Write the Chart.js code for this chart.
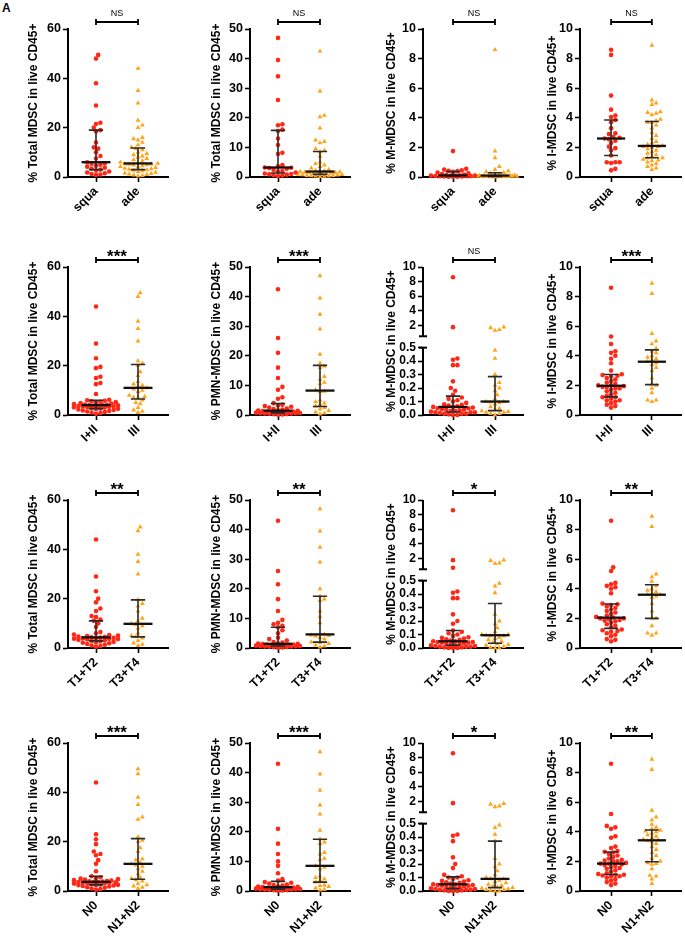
<!DOCTYPE html>
<html>
<head>
<meta charset="utf-8">
<script src="https://cdn.jsdelivr.net/npm/chart.js@4.4.0/dist/chart.umd.min.js"></script>
<style>
body { margin: 0; background: #fff; width: 685px; height: 936px; overflow: hidden; position: relative; }
canvas { position: absolute; }
#lab { position: absolute; left: 2px; top: 2px; font: bold 12px "Liberation Sans", Arial, sans-serif; line-height: 12px; }
</style>
</head>
<body>
<div id="lab">A</div>
<script>
// group names for each row
const groups = [['squa', 'ade'], ['I+II', 'III'], ['T1+T2', 'T3+T4'], ['N0', 'N1+N2']];
const yTitles = [
  ['% Total MDSC in live CD45+', '% Total MDSC in live CD45+', '% M-MDSC in live CD45+', '% I-MDSC in live CD45+'],
  ['% Total MDSC in live CD45+', '% PMN-MDSC in live CD45+', '% M-MDSC in live CD45+', '% I-MDSC in live CD45+'],
  ['% Total MDSC in live CD45+', '% PMN-MDSC in live CD45+', '% M-MDSC in live CD45+', '% I-MDSC in live CD45+'],
  ['% Total MDSC in live CD45+', '% PMN-MDSC in live CD45+', '% M-MDSC in live CD45+', '% I-MDSC in live CD45+']
];
const signif = [['NS', 'NS', 'NS', 'NS'], ['***', '***', 'NS', '***'], ['**', '**', '*', '**'], ['***', '***', '*', '**']];
const yMax = [60, 50, 10, 10];
const yStep = [20, 10, 2, 2];
const brokenTicks = [0, 0.1, 0.2, 0.3, 0.4, 0.5, 2, 4, 6, 8, 10];

// row 1: squa / ade
const tot_squa = [0.8,1.0,1.2,1.5,1.8,2.2,2.6,3.0,3.4,3.8,4.2,4.6,5.0,5.4,5.6,6.0,7.5,8.5,10,11.5,12,14,18.5,19,20,21.5,22,29,38,48,49.5];
const tot_ade = [0.4,0.6,0.8,1.0,1.2,1.4,1.6,1.9,2.2,2.5,2.7,2.9,3.1,3.3,3.5,3.8,4.0,4.2,4.5,4.8,5.0,5.1,5.2,5.3,5.5,5.8,6.0,6.5,7.0,7.5,8.0,8.5,9.0,9.5,10,11,11.5,12,13,14,15,15.5,16,20,21,23,30,35,44];
const pmn_squa = [0.3,0.5,0.6,0.8,0.9,1.0,1.2,1.5,1.8,2.0,2.4,2.8,3.0,3.1,3.2,3.6,4.0,7.8,8.2,10.8,13,15.5,16,17.5,17.8,26,34,39.5,47];
const pmn_ade = [0.1,0.2,0.3,0.3,0.4,0.5,0.5,0.6,0.7,0.8,0.9,1.0,1.0,1.1,1.2,1.3,1.4,1.5,1.6,1.7,1.8,1.9,2.0,2.2,2.5,3.0,3.5,4.0,4.5,5.0,7.0,8.5,9.0,9.5,11.5,12,12.5,16.5,20.3,20.8,29,42.5];
const mm_squa = [0.01,0.02,0.02,0.03,0.04,0.05,0.05,0.06,0.07,0.08,0.09,0.1,0.1,0.12,0.14,0.16,0.2,0.25,0.3,0.35,0.4,0.42,0.45,0.5,0.55,1.75];
const mm_ade = [0,0.01,0.01,0.02,0.02,0.03,0.03,0.04,0.04,0.05,0.05,0.06,0.06,0.07,0.08,0.09,0.1,0.1,0.11,0.12,0.14,0.16,0.2,0.25,0.3,0.35,0.4,0.5,0.7,1.3,1.75,8.6];
const im_squa = [0.45,0.55,0.95,1.0,1.0,1.0,1.45,1.8,1.95,2.05,2.3,2.45,2.55,2.6,2.65,2.7,2.9,2.95,3.3,3.7,3.85,4.05,4.15,4.55,5.5,8.25,8.6];
const im_ade = [0.5,0.6,0.7,0.8,0.9,1.0,1.1,1.15,1.2,1.3,1.3,1.4,1.5,1.6,1.7,1.8,1.9,2.0,2.05,2.05,2.1,2.2,2.3,2.4,2.6,2.8,3.0,3.3,3.5,3.7,3.7,3.8,3.9,4.2,4.3,4.35,4.4,4.9,5.0,5.2,8.9];

// row 2: I+II / III
const tot_12 = [0.5,0.8,1.0,1.2,1.4,1.6,1.8,2.0,2.2,2.4,2.5,2.6,2.8,3.0,3.1,3.2,3.3,3.4,3.5,3.6,3.7,3.8,3.9,4.0,4.0,4.1,4.2,4.4,4.6,4.8,5.0,5.2,5.4,5.6,5.8,6.0,6.2,8.5,12.5,13,15,15.5,19,19.5,23,29,44];
const tot_3 = [1.0,1.5,2.0,3.0,4.5,5.0,6.0,7.0,7.2,7.5,8.0,9.5,10.0,10.5,11,11.5,12,12.5,13.5,16,17.5,20,21,22,30,35,38,48,49.5];
const pmn_12 = [0.1,0.2,0.3,0.3,0.4,0.5,0.5,0.6,0.6,0.7,0.8,0.8,0.9,1.0,1.0,1.1,1.2,1.2,1.3,1.4,1.5,1.6,1.8,2.0,2.2,2.5,2.8,3.0,3.2,3.5,4.0,5.5,6.0,8.5,9.5,12.5,16,21,26,42.5];
const pmn_3 = [0.3,0.6,1.0,1.5,2.0,2.5,3.0,3.5,4.0,4.5,5.0,7.8,8.0,8.5,10.5,11,12,13,16,16.5,17.5,20.5,29,34,39.5,47];
const mm_12 = [0,0,0.005,0.01,0.01,0.01,0.015,0.02,0.02,0.02,0.025,0.03,0.03,0.035,0.04,0.04,0.045,0.05,0.05,0.055,0.06,0.06,0.065,0.07,0.075,0.08,0.09,0.1,0.11,0.12,0.13,0.15,0.18,0.2,0.25,0.37,0.37,0.41,0.42,1.75,8.6];
const mm_3 = [0,0.01,0.01,0.02,0.02,0.025,0.03,0.04,0.05,0.06,0.08,0.09,0.095,0.1,0.1,0.12,0.15,0.18,0.2,0.22,0.24,0.3,0.42,0.48,1.3,1.4,1.65,1.75];
const im_12 = [0.5,0.6,0.7,0.8,0.9,1.0,1.0,1.1,1.2,1.2,1.3,1.4,1.5,1.6,1.7,1.8,1.8,1.9,1.9,1.95,2.0,2.0,2.1,2.2,2.3,2.4,2.5,2.6,2.65,2.7,2.75,3.0,3.5,3.8,4.0,4.2,4.3,4.8,5.3,8.6];
const im_3 = [0.9,1.0,1.0,1.5,1.8,2.0,2.1,2.5,3.0,3.2,3.4,3.5,3.6,3.7,3.8,3.9,4.0,4.2,4.3,4.5,4.8,5.0,5.5,8.2,8.9];

// row 3: T1+T2 / T3+T4
const tot_t12 = [0.5,0.8,1.0,1.3,1.6,1.9,2.1,2.3,2.5,2.7,2.9,3.1,3.3,3.5,3.6,3.7,3.8,3.9,4.0,4.1,4.2,4.3,4.4,4.6,4.8,5.0,5.2,5.5,6.0,6.5,8.5,10,11,11.5,12.5,13,15,16,18.5,20,23,29,44];
const tot_t34 = [1.0,1.5,2.0,3.0,4.0,4.5,5.0,6.0,8.0,9.0,9.5,9.8,11,12,15,17,18,19.5,30,35,38,47.5,49];
const pmn_t12 = [0.1,0.2,0.3,0.3,0.4,0.5,0.5,0.6,0.6,0.7,0.8,0.8,0.9,1.0,1.0,1.1,1.2,1.2,1.3,1.4,1.5,1.6,1.8,2.0,2.5,3.0,3.5,5.0,6.0,7.0,7.5,8.0,8.5,9.5,12.5,16.5,21.5,26,43];
const pmn_t34 = [0.3,0.6,1.0,1.5,1.8,2.0,3.0,3.5,4.0,4.2,4.4,4.6,8.5,10.5,12.5,16,16.5,17.5,20,29,34,39.5,47];
const mm_t12 = [0,0,0,0.005,0.005,0.01,0.01,0.01,0.015,0.015,0.02,0.02,0.025,0.03,0.03,0.035,0.04,0.04,0.045,0.045,0.05,0.05,0.055,0.06,0.065,0.07,0.075,0.08,0.09,0.1,0.11,0.12,0.13,0.18,0.2,0.25,0.37,0.37,0.41,0.42,0.7,1.75,8.6];
const mm_t34 = [0,0,0.005,0.01,0.02,0.025,0.03,0.04,0.05,0.06,0.07,0.08,0.09,0.09,0.095,0.1,0.1,0.12,0.15,0.18,0.2,0.25,0.41,0.46,0.48,1.3,1.35,1.7,1.75];
const im_t12 = [0.45,0.55,0.6,0.8,0.9,1.0,1.1,1.15,1.2,1.25,1.4,1.5,1.6,1.7,1.8,1.85,1.9,1.95,2.0,2.0,2.05,2.1,2.2,2.3,2.4,2.5,2.6,2.7,2.8,2.9,2.95,3.0,3.7,4.0,4.1,4.2,4.3,4.4,5.2,5.45,8.6];
const im_t34 = [0.85,1.0,1.0,1.5,2.0,2.0,2.5,3.0,3.4,3.5,3.6,3.6,3.7,3.8,3.9,4.0,4.2,4.5,4.8,5.0,8.2,8.9];

// row 4: N0 / N1+N2
const tot_n0 = [0.5,0.8,1.0,1.3,1.5,1.8,2.0,2.2,2.3,2.4,2.5,2.6,2.8,3.0,3.1,3.2,3.3,3.4,3.5,3.6,3.6,3.7,3.8,3.9,4.0,4.2,4.4,4.6,4.8,5.0,5.3,5.6,6.0,8.0,11,12.5,14.5,15,16,19,21,23,44];
const tot_n12 = [1.0,1.5,2.0,2.5,3.0,4.0,4.5,5.0,5.5,7.0,8.0,9.0,10,10.5,11,11.5,12.5,13,16,17.5,20,20.5,22,29,30,35,38,47.5,49.5];
const pmn_n0 = [0.1,0.2,0.3,0.3,0.4,0.5,0.5,0.6,0.6,0.7,0.8,0.8,0.9,1.0,1.0,1.1,1.1,1.2,1.3,1.4,1.5,1.6,1.8,2.0,2.2,2.5,2.8,3.0,3.5,4.0,6.0,8.5,10,12.5,16,21,43];
const pmn_n12 = [0.3,0.5,1.0,1.5,1.8,2.0,3.0,3.5,4.0,4.5,5.0,7.5,8.0,8.5,10.5,11,12.5,13,16,16.5,17.5,20.5,26,29,34,39.5,47];
const mm_n0 = [0,0,0,0.005,0.005,0.01,0.01,0.01,0.015,0.015,0.02,0.02,0.025,0.03,0.03,0.035,0.04,0.04,0.045,0.045,0.05,0.05,0.055,0.06,0.065,0.07,0.075,0.08,0.09,0.1,0.1,0.11,0.12,0.17,0.2,0.25,0.37,0.41,0.42,1.75,8.6];
const mm_n12 = [0,0,0.005,0.01,0.01,0.015,0.02,0.025,0.03,0.035,0.04,0.05,0.06,0.07,0.08,0.09,0.09,0.1,0.12,0.15,0.18,0.2,0.24,0.37,0.42,0.47,0.49,1.25,1.35,1.6,1.7];
const im_n0 = [0.4,0.5,0.6,0.7,0.8,0.9,1.0,1.0,1.05,1.1,1.1,1.15,1.2,1.3,1.4,1.5,1.55,1.6,1.7,1.75,1.8,1.85,1.85,1.9,2.0,2.0,2.05,2.1,2.2,2.3,2.4,2.5,2.6,2.65,2.7,2.9,3.0,3.6,3.7,4.2,4.3,4.4,5.2,8.6];
const im_n12 = [0.5,0.8,1.0,1.05,1.5,1.8,1.85,1.9,2.0,2.2,2.4,2.6,2.8,3.0,3.2,3.3,3.4,3.45,3.5,3.6,3.7,3.8,3.9,4.0,4.05,4.1,4.2,4.3,4.5,4.8,5.0,5.45,8.2,8.9];

const panels = [
  [[tot_squa, tot_ade], [pmn_squa, pmn_ade], [mm_squa, mm_ade], [im_squa, im_ade]],
  [[tot_12, tot_3], [pmn_12, pmn_3], [mm_12, mm_3], [im_12, im_3]],
  [[tot_t12, tot_t34], [pmn_t12, pmn_t34], [mm_t12, mm_t34], [im_t12, im_t34]],
  [[tot_n0, tot_n12], [pmn_n0, pmn_n12], [mm_n0, mm_n12], [im_n0, im_n12]]
];

// layout of the figure (pixels)
const cols = [
  { left: 0, w: 185, axis: 68, title: 34, end: 168, catOff: 28 },
  { left: 171, w: 185, axis: 250, title: 217, end: 350, catOff: 28 },
  { left: 342, w: 185, axis: 423, title: 392, end: 523, catOff: 30 },
  { left: 513, w: 172, axis: 580, title: 553, end: 684, catOff: 32 }
];
const plotTops = [29, 267, 500, 743];
const plotH = 148, padTop = 29, canvasH = 233, xUnit = 42;
const RED = 'rgb(255,40,22)', ORANGE = 'rgb(255,163,24)';

Chart.defaults.font.family = '"Liberation Sans", Arial, sans-serif';
Chart.defaults.font.weight = 'bold';
Chart.defaults.font.size = 12;
Chart.defaults.color = '#000';

// broken y axis: 0-0.5 in the lower part, 0.5-10 in the upper part
const LOW_F = 0.455, HIGH_F = 0.532;
function brokenDec(v) {
  return v <= 0.5 ? v / 0.5 * LOW_F : HIGH_F + (v - 0.5) / 9.5 * (1 - HIGH_F);
}
class BrokenScale extends Chart.LinearScale {
  static id = 'broken';
  buildTicks() { return brokenTicks.map(v => ({ value: v })); }
  getPixelForValue(v) { return this.getPixelForDecimal(brokenDec(v)); }
  getValueForPixel(p) {
    const d = this.getDecimalForPixel(p);
    return d <= LOW_F ? d / LOW_F * 0.5 : 0.5 + (d - HIGH_F) / (1 - HIGH_F) * 9.5;
  }
}
Chart.register(BrokenScale);

function quant(s, p) {
  const h = (s.length + 1) * p, i = Math.floor(h);
  if (i < 1) return s[0];
  if (i >= s.length) return s[s.length - 1];
  return s[i - 1] + (h - i) * (s[i] - s[i - 1]);
}

// simple beeswarm so the dots spread sideways like the original
function swarm(vals, yPx) {
  const placed = [];
  return vals.map(v => {
    const py = yPx(v);
    let best = 0, bestD = -1;
    for (let k = 0; k <= 10; k++) {
      for (const sg of (k ? [1, -1] : [1])) {
        const ox = sg * k * 2.2;
        let d = Infinity;
        placed.forEach(q => { d = Math.min(d, Math.hypot(q[0] - ox, q[1] - py)); });
        if (d >= 4.3) { placed.push([ox, py]); return ox / xUnit; }
        if (d > bestD) { bestD = d; best = ox; }
      }
    }
    placed.push([best, py]);
    return best / xUnit;
  });
}

function groupSets(vals, cx, yPx, color, style, radius) {
  const s = vals.slice().sort((a, b) => a - b);
  const q1 = quant(s, 0.25), med = quant(s, 0.5), q3 = quant(s, 0.75);
  const offs = swarm(s, yPx);
  return {
    med: { type: 'line', data: [{ x: cx - 0.345, y: med }, { x: cx + 0.345, y: med }],
      borderColor: '#111', borderWidth: 2.3, pointRadius: 0, clip: false },
    iqr: { type: 'line', data: [
        { x: cx - 0.17, y: q1 }, { x: cx + 0.17, y: q1 }, { x: cx, y: null },
        { x: cx, y: q1 }, { x: cx, y: q3 }, { x: cx, y: null },
        { x: cx - 0.17, y: q3 }, { x: cx + 0.17, y: q3 }],
      borderColor: '#2a2a2a', borderWidth: 1.6, pointRadius: 0, spanGaps: false, clip: false },
    pts: { type: 'scatter', data: s.map((v, i) => ({ x: cx + offs[i], y: v })),
      pointStyle: style, pointRadius: radius, backgroundColor: color, borderColor: color,
      borderWidth: 0, clip: false }
  };
}

function line(ctx, x1, y1, x2, y2) {
  ctx.beginPath(); ctx.moveTo(x1, y1); ctx.lineTo(x2, y2); ctx.stroke();
}

const decor = {
  id: 'decor',
  afterDraw(chart, args, o) {
    const { ctx, chartArea: a, scales: { x, y } } = chart;
    ctx.save();
    ctx.strokeStyle = '#000';
    ctx.fillStyle = '#000';
    // significance bracket
    const x1 = x.getPixelForValue(1), x2 = x.getPixelForValue(2), by = a.top - 7;
    ctx.lineWidth = 1.8;
    line(ctx, x1, by, x2, by);
    line(ctx, x1, by - 3, x1, by + 3);
    line(ctx, x2, by - 3, x2, by + 3);
    ctx.textAlign = 'center';
    ctx.textBaseline = 'alphabetic';
    if (o.sig === 'NS') {
      ctx.font = '9px "Liberation Sans", Arial, sans-serif';
      ctx.fillText('NS', (x1 + x2) / 2, by - 6.5);
    } else {
      ctx.font = 'bold 17px "Liberation Sans", Arial, sans-serif';
      ctx.fillText(o.sig, (x1 + x2) / 2, by + 1.5);
    }
    // broken y axis line
    if (o.broken) {
      const lx = a.left;
      const lowTop = y.getPixelForValue(0.5), highBot = y.getPixelForDecimal(HIGH_F);
      ctx.lineWidth = 2;
      line(ctx, lx, y.getPixelForValue(0) + 1, lx, lowTop);
      line(ctx, lx, highBot, lx, y.getPixelForValue(10));
      line(ctx, lx - 4, lowTop, lx + 4, lowTop);
      line(ctx, lx - 4, highBot, lx + 4, highBot);
    }
    ctx.restore();
  }
};

function makePanel(r, c) {
  const col = cols[c];
  const broken = c === 2 && r > 0;
  const canvas = document.createElement('canvas');
  canvas.width = col.w;
  canvas.height = canvasH;
  canvas.style.left = col.left + 'px';
  canvas.style.top = (plotTops[r] - padTop) + 'px';
  document.body.appendChild(canvas);

  const titleSize = 12;
  const padLeft = col.title - col.left - titleSize * 1.2 / 2;
  const yWidth = col.axis - col.left - padLeft;
  const plotW = col.end - col.axis;
  const xMin = 1 - col.catOff / xUnit;
  const xMax = xMin + plotW / xUnit;

  const yPx = broken ? (v => brokenDec(v) * plotH) : (v => v / yMax[c] * plotH);
  const [va, vb] = panels[r][c];
  const A = groupSets(va, 1, yPx, RED, 'circle', 2.3);
  const B = groupSets(vb, 2, yPx, ORANGE, 'triangle', 2.8);

  const yScale = broken ? {
    type: 'broken', min: 0, max: 10,
    ticks: { autoSkip: false, padding: 2, font: { size: 12, weight: 'bold' },
      callback: v => v < 1 ? v.toFixed(1) : String(v) }
  } : {
    type: 'linear', min: 0, max: yMax[c],
    ticks: { autoSkip: false, stepSize: yStep[c], padding: 2, font: { size: 12.5, weight: 'bold' } }
  };
  Object.assign(yScale, {
    title: { display: true, text: yTitles[r][c], padding: 0, font: { size: titleSize, weight: 'bold' } },
    grid: { display: true, drawOnChartArea: false, drawTicks: true, tickLength: 5, tickWidth: 1.6, tickColor: '#000' },
    border: { display: !broken, color: '#000', width: 2 },
    afterFit: s => { s.width = yWidth; s.paddingTop = 0; s.paddingBottom = 0; }
  });

  new Chart(canvas, {
    type: 'scatter',
    data: { datasets: [A.med, A.iqr, B.med, B.iqr, A.pts, B.pts] },
    options: {
      responsive: false,
      animation: false,
      events: [],
      layout: { padding: { left: padLeft, top: padTop, right: col.w - (col.end - col.left), bottom: 0 } },
      plugins: { legend: { display: false }, tooltip: { enabled: false },
        decor: { sig: signif[r][c], broken: broken } },
      scales: {
        x: {
          type: 'linear', min: xMin, max: xMax,
          afterBuildTicks: s => { s.ticks = [{ value: 1 }, { value: 2 }]; },
          afterFit: s => { s.height = canvasH - padTop - plotH; s.paddingLeft = 0; s.paddingRight = 0; },
          ticks: { autoSkip: false, minRotation: 45, maxRotation: 45, padding: 2,
            font: { size: 12.5, weight: 'bold' },
            callback: (v, i) => groups[r][i] },
          grid: { display: true, drawOnChartArea: false, drawTicks: true, tickLength: 5, tickWidth: 1.6, tickColor: '#000' },
          border: { display: true, color: '#000', width: 2 }
        },
        y: yScale
      }
    },
    plugins: [decor]
  });
}

for (let r = 0; r < 4; r++) {
  for (let c = 0; c < 4; c++) makePanel(r, c);
}
</script>
</body>
</html>
